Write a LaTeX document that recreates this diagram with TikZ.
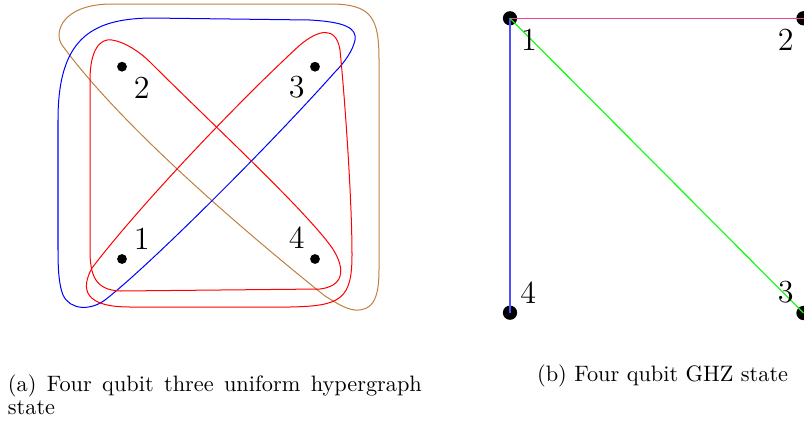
\documentclass[tikz,border=0pt]{standalone}
\usetikzlibrary{calc}
\definecolor{hbrown}{rgb}{0.75,0.5,0.25}
\definecolor{epink}{RGB}{240,64,165}
\definecolor{eblue}{RGB}{80,80,255}
\definecolor{egreen}{RGB}{0,255,0}
\tikzset{
  dotL/.style={circle,fill=black,inner sep=0pt,minimum size=4.4pt},
  dotR/.style={circle,fill=black,inner sep=0pt,minimum size=6.4pt},
  lab/.style={font=\Large,inner sep=0pt},
  captext/.style={inner sep=0pt,font=\normalsize},
  hedge/.style={line width=0.45pt},
  gedge/.style={line width=0.5pt},
}
\begin{document}
\begin{tikzpicture}[x=0.4484pt,y=-0.4484pt]
\useasboundingbox (0,0) rectangle (804,421);
% hyperedge {2,3,4}
\draw[hedge,hbrown] (62,45) .. controls (54,34) and (60,5) .. (110,4)
  -- (330,4) .. controls (372,4) and (379,18) .. (379,60)
  -- (379,270) .. controls (379,300) and (372,311) .. (355,310)
  .. controls (345,309) and (335,302) .. (325,296)
  .. controls (245,232) and (120,125) .. (62,45) -- cycle;
% hyperedge {1,2,3}
\draw[hedge,blue] (58,120) .. controls (58,40) and (90,19) .. (150,18)
  -- (310,20) .. controls (345,22) and (357,28) .. (355,40)
  .. controls (353,50) and (345,62) .. (335,72)
  .. controls (270,145) and (150,265) .. (105,300)
  .. controls (90,311) and (70,310) .. (63,295)
  .. controls (59,285) and (58,270) .. (58,250) -- cycle;
% hyperedge {1,2,4}
\draw[hedge,red] (90,250) -- (90,80) .. controls (90,50) and (100,38) .. (112,40)
  .. controls (125,42) and (140,52) .. (150,62)
  .. controls (210,122) and (300,205) .. (330,245)
  .. controls (340,258) and (352,285) .. (320,289)
  -- (120,291) .. controls (95,290) and (90,275) .. (90,250) -- cycle;
% hyperedge {1,3,4}
\draw[hedge,red] (300,45) .. controls (318,30) and (336,25) .. (340,50)
  .. controls (345,100) and (352,200) .. (352,255)
  .. controls (352,300) and (340,306) .. (290,307)
  -- (130,307) .. controls (85,307) and (80,290) .. (92,268)
  .. controls (140,205) and (240,100) .. (300,45) -- cycle;
% left vertices
\node[dotL] (a2) at (122,66.7) {};
\node[dotL] (a3) at (315,66.7) {};
\node[dotL] (a1) at (122,259) {};
\node[dotL] (a4) at (315,259) {};
\node[lab] (la2) at (141.7,88) {2};
\node[lab] (la3) at (296.7,87) {3};
\node[lab] (la1) at (141.7,239) {1};
\node[lab] (la4) at (296.7,238) {4};
% right graph
\node[dotR] (r1) at (510,18.3) {};
\node[dotR] (r2) at (803.5,18.3) {};
\node[dotR] (r4) at (510,312.7) {};
\node[dotR] (r3) at (803.5,313) {};
\draw[gedge,epink] (r1.center) -- (r2.center);
\draw[gedge,eblue] (r1.center) -- (r4.center);
\draw[gedge,egreen] (r1.center) -- (r3.center);
\node[lab] (lr1) at (529,40) {1};
\node[lab] (lr2) at (785.7,40) {2};
\node[lab] (lr4) at (528.3,292.3) {4};
\node[lab] (lr3) at (785.7,292.3) {3};
% captions
\node[captext,anchor=base west] (capa) at (7.5,391.7) {\makebox[185.6pt][s]{(a) Four qubit three uniform hypergraph}};
\node[captext,anchor=base west] (capa2) at (7.5,414.3) {state};
\node[captext,anchor=base west] (capb) at (536.7,381) {(b) Four qubit GHZ state};
\end{tikzpicture}
\end{document}
